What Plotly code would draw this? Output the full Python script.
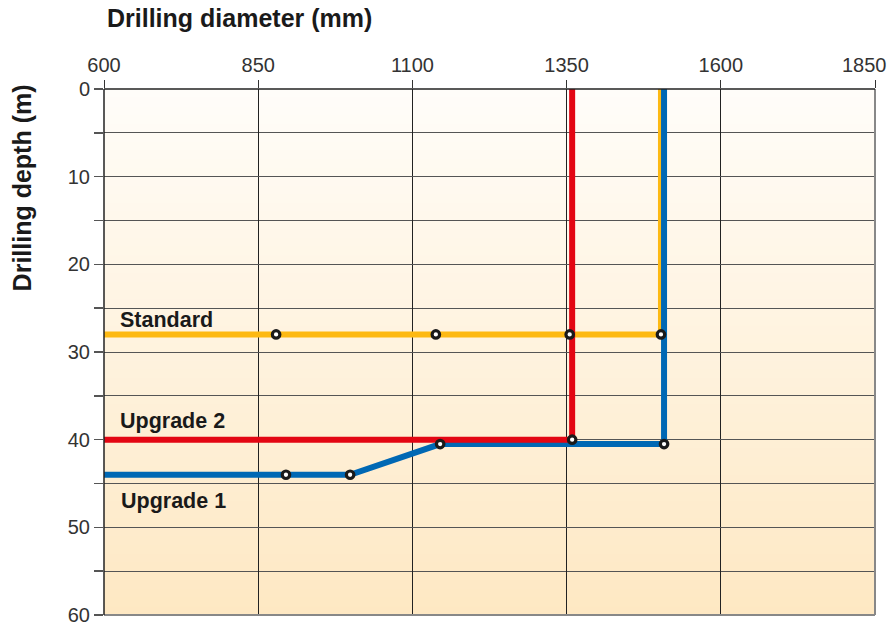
import plotly.graph_objects as go

# ---- data ----
x_ticks = [600, 850, 1100, 1350, 1600, 1850]
x_ticktext = ["600", "850", "1100", "1350", "1600", ""]
y_ticks = [0, 10, 20, 30, 40, 50, 60]
y_minor = [5, 15, 25, 35, 45, 55]

std_x = [600, 879, 1138, 1355, 1503, 1503]
std_y = [28, 28, 28, 28, 28, 0]
std_mx = [879, 1138, 1355, 1503]
std_my = [28, 28, 28, 28]

up2_x = [600, 1359, 1359]
up2_y = [40, 40, 0]
up2_mx = [1359]
up2_my = [40]

up1_x = [600, 895, 999, 1145, 1359, 1508, 1508]
up1_y = [44, 44, 44, 40.5, 40.5, 40.5, 0]
up1_mx = [895, 999, 1145, 1508]
up1_my = [44, 44, 40.5, 40.5]

ORANGE = "#FDB913"
RED = "#E30613"
BLUE = "#0068B4"
FONT = "Arial, Liberation Sans, Helvetica, sans-serif"

fig = go.Figure()

for xs, ys, col in [(std_x, std_y, ORANGE), (up1_x, up1_y, BLUE), (up2_x, up2_y, RED)]:
    fig.add_trace(go.Scatter(x=xs, y=ys, mode="lines",
                             line=dict(color=col, width=6), showlegend=False,
                             hoverinfo="skip"))

for mx, my in [(std_mx, std_my), (up1_mx, up1_my), (up2_mx, up2_my)]:
    fig.add_trace(go.Scatter(x=mx, y=my, mode="markers",
                             marker=dict(symbol="circle", size=7.5, color="white",
                                         line=dict(color="#1a1a1a", width=3.2)),
                             showlegend=False))

# background gradient
shapes = []
n = 60
top = (255, 253, 249)
bot = (254, 232, 195)
for i in range(n):
    t = (i + 0.5) / n
    c = tuple(round(top[k] + (bot[k] - top[k]) * t) for k in range(3))
    y_hi = 1 - i / n
    y_lo = max(0, 1 - (i + 1) / n - 0.002)
    shapes.append(dict(type="rect", xref="x domain", yref="y domain",
                       x0=0, x1=1, y0=y_lo, y1=y_hi,
                       fillcolor="rgb(%d,%d,%d)" % c, line=dict(width=0),
                       layer="below"))
# frame
shapes.append(dict(type="line", xref="x domain", yref="y domain", x0=1, x1=1, y0=0, y1=1,
                   line=dict(color="#888", width=2), layer="above"))
shapes.append(dict(type="line", xref="x domain", yref="y domain", x0=0, x1=1, y0=0, y1=0,
                   line=dict(color="#888", width=2), layer="above"))
shapes.append(dict(type="line", xref="x domain", yref="y domain", x0=0, x1=1, y0=1, y1=1,
                   line=dict(color="#222", width=1.5), layer="above"))
shapes.append(dict(type="line", xref="x domain", yref="y domain", x0=0, x1=0, y0=0, y1=1,
                   line=dict(color="#222", width=1.5), layer="above"))

annotations = [
    dict(text="<b>Drilling diameter (mm)</b>", xref="paper", yref="paper",
         x=0.001, y=1.135, xanchor="left", yanchor="middle", showarrow=False,
         font=dict(family=FONT, size=25, color="#1a1a1a")),
    dict(text="<b>Drilling depth (m)</b>", xref="paper", yref="paper",
         x=-0.107, y=0.812, xanchor="center", yanchor="middle", textangle=-90,
         showarrow=False, font=dict(family=FONT, size=25, color="#1a1a1a")),
    dict(text="1850", xref="paper", yref="paper",
         x=0.987, y=1.0456, xanchor="center", yanchor="middle", showarrow=False,
         font=dict(family=FONT, size=20, color="#333")),
    dict(text="<b>Standard</b>", xref="x", yref="y", x=622, y=26.3,
         xanchor="left", yanchor="middle", showarrow=False,
         font=dict(family=FONT, size=21.5, color="#1a1a1a")),
    dict(text="<b>Upgrade 2</b>", xref="x", yref="y", x=622, y=37.9,
         xanchor="left", yanchor="middle", showarrow=False,
         font=dict(family=FONT, size=21.5, color="#1a1a1a")),
    dict(text="<b>Upgrade 1</b>", xref="x", yref="y", x=625, y=47.0,
         xanchor="left", yanchor="middle", showarrow=False,
         font=dict(family=FONT, size=21.5, color="#1a1a1a")),
]

fig.update_layout(
    width=891, height=625,
    margin=dict(l=104, r=16, t=89, b=10, autoexpand=False),
    paper_bgcolor="white", plot_bgcolor="white",
    shapes=shapes, annotations=annotations,
    font=dict(family=FONT),
    hovermode=False,
    xaxis=dict(side="top", range=[600, 1850], tickvals=x_ticks, ticktext=x_ticktext,
               ticks="outside", ticklen=8, tickcolor="#333", tickwidth=1,
               showgrid=True, gridcolor="#222", gridwidth=1, zeroline=False,
               showline=False, automargin=False, ticklabeloverflow="allow",
               tickfont=dict(family=FONT, size=20, color="#333")),
    yaxis=dict(range=[60, 0], tickvals=y_ticks, ticksuffix=" ",
               ticks="outside", ticklen=9, tickcolor="#555", tickwidth=1.5,
               showgrid=True, gridcolor="#555", gridwidth=1, zeroline=False,
               showline=False, automargin=False, ticklabeloverflow="allow",
               minor=dict(tickvals=y_minor, ticks="outside", ticklen=9,
                          tickcolor="#555", tickwidth=1.5, showgrid=True,
                          gridcolor="#555", gridwidth=1),
               tickfont=dict(family=FONT, size=20, color="#333")),
)

fig.write_html(
    "out.html",
    config={"displayModeBar": False, "staticPlot": True},
    post_script=("document.body.style.margin='0';"
                 "document.body.style.overflow='hidden';"
                 "document.documentElement.style.overflow='hidden';"),
)
